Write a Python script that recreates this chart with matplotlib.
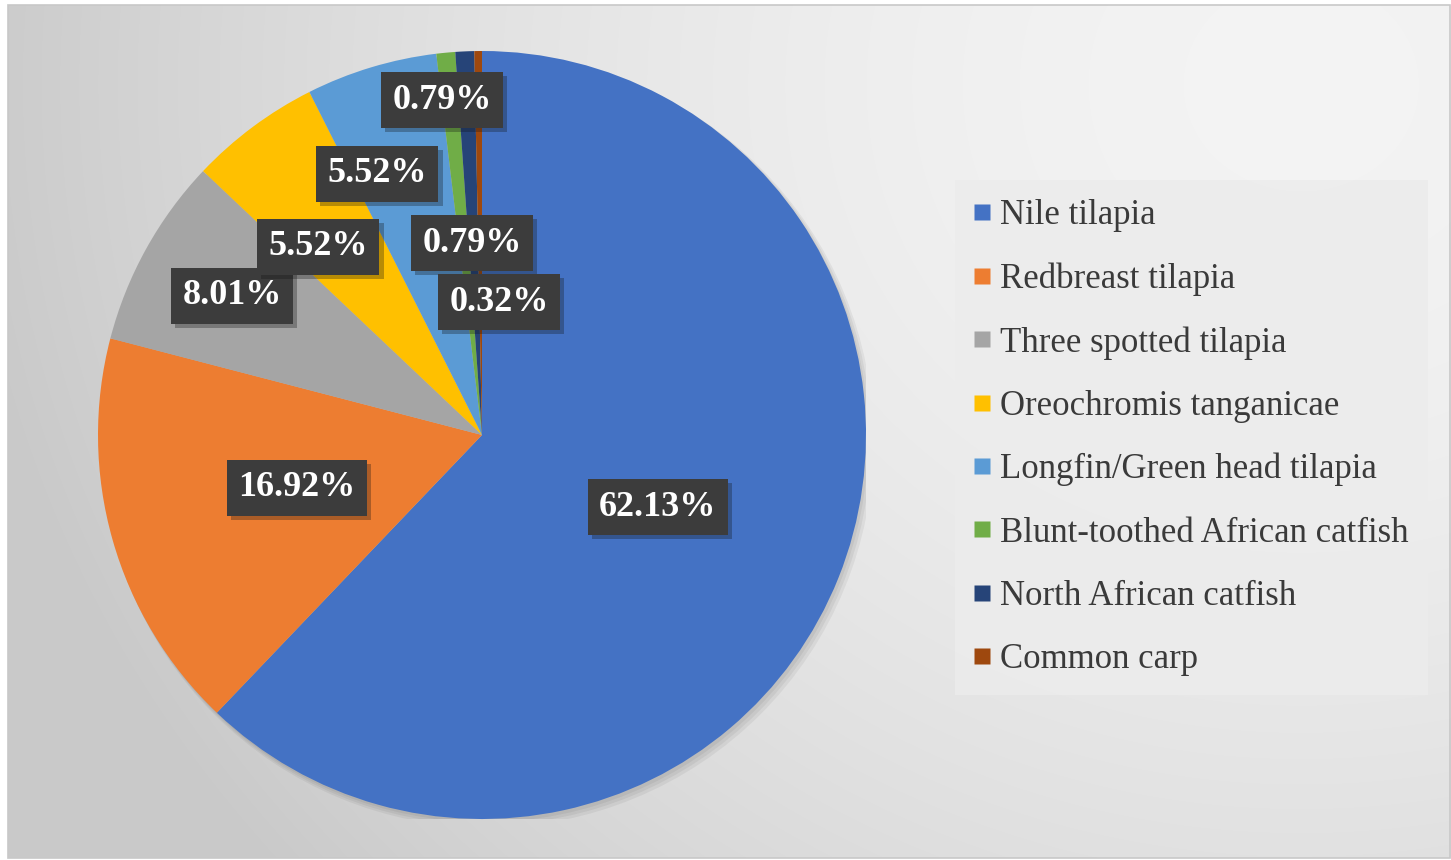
import matplotlib.pyplot as plt
import matplotlib.patheffects as pe
from matplotlib.lines import Line2D
from matplotlib.patches import Rectangle, Circle
import numpy as np

# data
species = ["Nile tilapia", "Redbreast tilapia", "Three spotted tilapia",
           "Oreochromis tanganicae", "Longfin/Green head tilapia",
           "Blunt-toothed African catfish", "North African catfish", "Common carp"]
shares = [62.13, 16.92, 8.01, 5.52, 5.52, 0.79, 0.79, 0.32]
colors = ["#4472C4", "#ED7D31", "#A5A5A5", "#FFC000", "#5B9BD5",
          "#70AD47", "#264478", "#9E480E"]

# label box centres, in pie units (radius = 1)
label_pos = [(0.458, -0.188), (-0.482, -0.138), (-0.651, 0.362), (-0.427, 0.490),
             (-0.273, 0.680), (-0.104, 0.872), (-0.026, 0.500), (0.044, 0.346)]

W, H = 1451, 860
fig = plt.figure(figsize=(W / 100, H / 100), dpi=100)

# background: soft radial grey gradient inside a thin frame
bg = fig.add_axes([0, 0, 1, 1])
bg.set_xlim(0, W)
bg.set_ylim(H, 0)
bg.axis("off")
yy, xx = np.mgrid[0:H, 0:W]
d = np.sqrt((xx - 1300) ** 2 + ((yy - 80) * 1.1) ** 2)
shade = 0.955 - 0.165 * np.clip(d / 1350, 0, 1) ** 1.8
img = np.dstack([shade, shade, shade])
bg.imshow(img, extent=(8, W, H - 2, 5), aspect="auto", zorder=0)
bg.add_patch(Rectangle((8, 5), W - 9, H - 7, fill=False, edgecolor="#c8c8c8", lw=1.2, zorder=1))

# pie: centre (482, 435) px, radius 384 px
cx, cy, r = 482, 435, 384
ax = fig.add_axes([(cx - r) / W, (H - cy - r) / H, 2 * r / W, 2 * r / H])
ax.set_facecolor("none")
# soft shadow under the pie
for k in range(3):
    ax.add_patch(Circle((0.006 + 0.004 * k, -0.008 - 0.004 * k), 1.0 + 0.003 * k,
                        facecolor="black", edgecolor="none", alpha=0.05, zorder=0))
wedges, _ = ax.pie(shares, colors=colors, startangle=90, counterclock=False,
                   radius=1, wedgeprops=dict(linewidth=0))
ax.set_xlim(-1, 1)
ax.set_ylim(-1, 1)
ax.set_aspect("equal")
ax.axis("off")

for val, (lx, ly) in zip(shares, label_pos):
    t = ax.text(lx, ly, f"{val:.2f}%", ha="center", va="center",
                fontsize=26, fontweight="bold", family="Liberation Serif", color="white",
                bbox=dict(boxstyle="square,pad=0.32", facecolor="#3c3c3c", edgecolor="none"),
                zorder=5)
    t.get_bbox_patch().set_path_effects([pe.SimplePatchShadow(offset=(3, -3), alpha=0.3), pe.Normal()])

# legend
handles = [Line2D([], [], marker="s", linestyle="none", markersize=12,
                  markerfacecolor=c, markeredgecolor="none") for c in colors]
leg = fig.legend(handles, species, loc="upper left",
                 bbox_to_anchor=(955 / W, 1 - 180 / H), frameon=True,
                 prop=dict(family="Liberation Serif", size=25),
                 labelspacing=0.87, handlelength=0.45, handletextpad=0.3,
                 borderpad=0.55, borderaxespad=0, fancybox=False)
leg.get_frame().set_facecolor("#ececec")
leg.get_frame().set_edgecolor("none")
leg.get_frame().set_alpha(0.85)
for txt in leg.get_texts():
    txt.set_color("#3a3a3a")

fig.savefig("out.png", dpi=100)
